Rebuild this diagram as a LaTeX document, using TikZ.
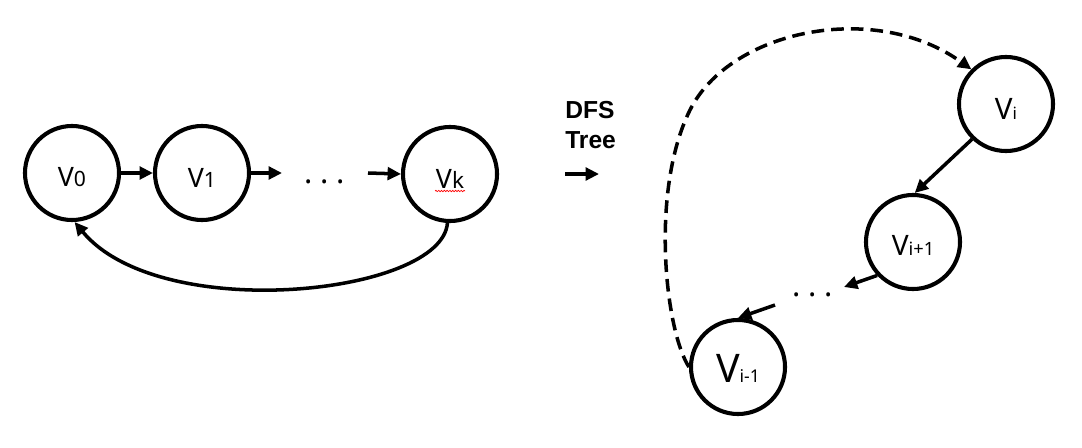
\documentclass[tikz,border=0pt]{standalone}
\usepackage{fontspec}
\setmainfont{Noto Sans}
\newfontfamily\dfsfont{Liberation Sans}
\usetikzlibrary{arrows.meta,decorations.pathmorphing}
\newcommand\vlab[3]{{\fontsize{#1}{#1}\selectfont V}{\fontsize{#2}{#2}\selectfont #3}}
\newcommand\tdots{.\hspace{0.25em}.\hspace{0.25em}.}
\begin{document}
\begin{tikzpicture}[x=0.025cm,y=-0.025cm,
  vert/.style={circle,draw,line width=2.9pt,minimum size=2.35cm,inner sep=0pt},
  lbl/.style={inner sep=0pt},
  arr/.style={line width=2.5pt,-{Triangle[length=9.5pt,width=9pt]}},
  dts/.style={inner sep=0pt,font=\fontsize{22}{22}\selectfont},
  dfs/.style={inner sep=0pt,anchor=west,font=\dfsfont\bfseries\fontsize{17.5}{17.5}\selectfont}]
\useasboundingbox (0,0) rectangle (1082,447);
% left chain
\node[vert] (v0) at (72,173) {};
\node[vert] (v1) at (202,173) {};
\node[vert] (vk) at (450,174) {};
\node[lbl,yshift=-3.2pt] (v0t) at (v0) {\vlab{19}{15}{0}};
\node[lbl,yshift=-3.2pt] (v1t) at (v1) {\vlab{19}{15}{1}};
\node[lbl,yshift=-3.2pt] (vkt) at (vk) {\vlab{19}{16}{k}};
\node[dts] (ldots) at (325,182) {\tdots};
\coordinate (l1) at (282,173);
\coordinate (l2) at (368,173);
\draw[arr] (v0) -- (v1);
\draw[arr] (v1.east) -- (l1);
\draw[arr] (l2) -- (vk.west);
\draw[arr] (vk.-93) .. controls (442,295) and (160,325) .. (v0.-87);
\coordinate (sq1) at (435,191);
\coordinate (sq2) at (465,191);
\draw[red,line width=0.5pt,decorate,decoration={snake,amplitude=0.5pt,segment length=2pt}] (sq1) -- (sq2);
% DFS tree label
\node[dfs] (dfs) at (565,110) {DFS};
\node[dfs] (tree) at (565,140) {Tree};
\coordinate (d1) at (565,174);
\coordinate (d2) at (599,174);
\draw[arr] (d1) -- (d2);
% right tree
\node[vert] (vi) at (1006,104) {};
\node[vert] (vip) at (913,242) {};
\node[vert] (vim) at (738,367) {};
\node[lbl,yshift=-3.5pt] (vit) at (vi) {\vlab{21}{12}{i}};
\node[lbl,yshift=-2.2pt] (vipt) at (vip) {\vlab{20}{13}{i+1}};
\node[lbl,yshift=-0.7pt] (vimt) at (vim) {\vlab{28}{12.5}{i-1}};
\node[dts] (rdots) at (813,295) {\tdots};
\coordinate (r1) at (844,287);
\coordinate (r2) at (775,305);
\draw[arr] (vi.226) -- (vip.88);
\draw[arr] (vip.223) -- (r1);
\draw[arr] (r2) -- (vim.90);
\draw[arr,dash pattern=on 9pt off 5pt] (vim.180) .. controls (665,330) and (650,190) .. (690,110)
  .. controls (730,30) and (875,0) .. (vi.135);
\end{tikzpicture}
\end{document}
